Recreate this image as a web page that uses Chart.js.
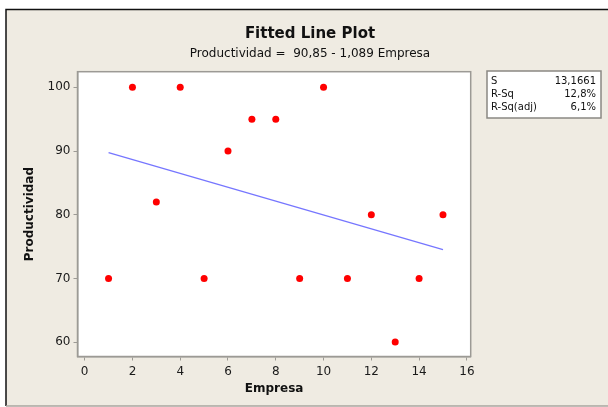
<!DOCTYPE html>
<html><head><meta charset="utf-8">
<script src="https://cdn.jsdelivr.net/npm/chart.js@4"></script>
<style>html,body{margin:0;padding:0;background:#fff;overflow:hidden;}</style>
</head><body>
<canvas id="c" width="608" height="407" style="display:block;width:608px;height:407px"></canvas>
<script>
// ---- data ----
const empresa = [1,2,3,4,5,6,7,8,9,10,11,12,13,14,15];
const productividad = [70,100,82,100,70,90,95,95,70,100,70,80,60,70,80];
const intercept = 90.85;
const slope = -1.089;
const xTicks = [0,2,4,6,8,10,12,14,16];
const yTicks = [60,70,80,90,100];
const statLabels = ['S','R-Sq','R-Sq(adj)'];
const statValues = ['13,1661','12,8%','6,1%'];
const titleText = 'Fitted Line Plot';
const subtitleText = 'Productividad =  90,85 - 1,089 Empresa';
const xTitle = 'Empresa';
const yTitle = 'Productividad';

const FONT = '"DejaVu Sans", Verdana, sans-serif';
const points = empresa.map((x,i)=>({x:x, y:productividad[i]}));
const xMin = Math.min(...empresa), xMax = Math.max(...empresa);
const fitLine = [xMin, xMax].map(x=>({x:x, y:intercept + slope*x}));

const decor = {
  id:'decor',
  beforeDraw(chart){
    const ctx = chart.ctx, a = chart.chartArea;
    ctx.save();
    ctx.fillStyle = '#ffffff';
    ctx.fillRect(0,0,chart.width,chart.height);
    ctx.fillStyle = '#efebe2';
    ctx.fillRect(6,9.5,chart.width-6,396.5);
    ctx.strokeStyle = '#111'; ctx.lineWidth = 1.5;
    ctx.beginPath(); ctx.moveTo(6,406); ctx.lineTo(6,9.5); ctx.lineTo(chart.width,9.5); ctx.stroke();
    ctx.strokeStyle = '#a8a59e'; ctx.lineWidth = 1.5;
    ctx.beginPath(); ctx.moveTo(6,406); ctx.lineTo(chart.width,406); ctx.stroke();
    ctx.fillStyle = '#ffffff';
    ctx.fillRect(a.left,a.top,a.right-a.left,a.bottom-a.top);
    ctx.restore();
  },
  afterDraw(chart){
    const ctx = chart.ctx, a = chart.chartArea;
    ctx.save();
    ctx.strokeStyle = '#9c9a95'; ctx.lineWidth = 1.5;
    ctx.strokeRect(a.left,a.top,a.right-a.left,a.bottom-a.top);
    ctx.fillStyle = '#111';
    ctx.textAlign = 'center'; ctx.textBaseline = 'middle';
    ctx.font = 'bold 15px ' + FONT;
    ctx.fillText(titleText, 310, 34);
    ctx.font = '12px ' + FONT;
    ctx.fillText(subtitleText, 310, 54);
    ctx.font = 'bold 12px ' + FONT;
    ctx.fillText(xTitle, (a.left+a.right)/2, 389);
    ctx.save();
    ctx.translate(30,(a.top+a.bottom)/2);
    ctx.rotate(-Math.PI/2);
    ctx.fillText(yTitle,0,0);
    ctx.restore();
    // stats box
    const bx=487, by=71, bw=114, bh=47;
    ctx.fillStyle = '#ffffff';
    ctx.fillRect(bx,by,bw,bh);
    ctx.strokeStyle = '#8a8883'; ctx.lineWidth = 1.5;
    ctx.strokeRect(bx,by,bw,bh);
    ctx.fillStyle = '#111';
    ctx.font = '10px ' + FONT;
    statLabels.forEach((lab,i)=>{
      const yy = 81 + i*13;
      ctx.textAlign = 'left'; ctx.fillText(lab, 491, yy);
      ctx.textAlign = 'right'; ctx.fillText(statValues[i], 596, yy);
    });
    ctx.restore();
  }
};

new Chart(document.getElementById('c'), {
  type:'scatter',
  data:{ datasets:[
    { label:'Fit', data:fitLine, showLine:true, borderColor:'#7676ff', borderWidth:1.3, pointRadius:0, order:2 },
    { label:'Data', data:points, pointRadius:3.5, pointHoverRadius:3.5, backgroundColor:'#ff0000', borderWidth:0, order:1 }
  ]},
  options:{
    responsive:false, animation:false, devicePixelRatio:1,
    layout:{ padding:{ top:71.7, right:137.3, left:0, bottom:0 } },
    plugins:{ legend:{display:false}, title:{display:false}, tooltip:{enabled:false} },
    scales:{
      x:{ type:'linear', min:-0.3, max:16.16,
        afterBuildTicks(s){ s.ticks = xTicks.map(v=>({value:v})); },
        afterFit(s){ s.height = 50.5; },
        grid:{ display:true, drawOnChartArea:false, drawTicks:true, tickLength:4, color:'#9c9a95', lineWidth:1 },
        border:{ display:true, color:'#9c9a95', width:1.5 },
        ticks:{ color:'#1a1a1a', font:{ family:FONT, size:12 }, padding:4, maxRotation:0, autoSkip:false }
      },
      y:{ type:'linear', min:57.74, max:102.45,
        afterBuildTicks(s){ s.ticks = yTicks.map(v=>({value:v})); },
        afterFit(s){ s.width = 77.5; },
        grid:{ display:true, drawOnChartArea:false, drawTicks:true, tickLength:4, color:'#9c9a95', lineWidth:1 },
        border:{ display:true, color:'#9c9a95', width:1.5 },
        ticks:{ color:'#1a1a1a', font:{ family:FONT, size:12 }, padding:3, autoSkip:false }
      }
    }
  },
  plugins:[decor]
});
</script>
</body></html>
